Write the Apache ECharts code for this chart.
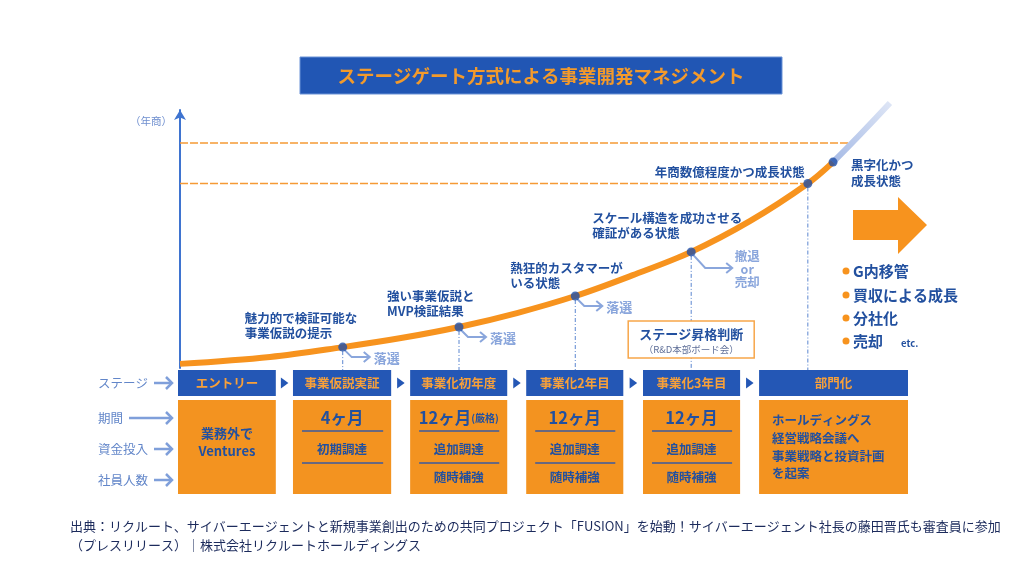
<!DOCTYPE html>
<html><head><meta charset="utf-8">
<script src="https://cdn.jsdelivr.net/npm/echarts@6/dist/echarts.min.js"></script>
<style>html,body{margin:0;padding:0;background:#fff}#c{width:1024px;height:576px}</style>
</head><body><div id="c"></div>
<script>
// ---------------- data ----------------
const chartTitle = 'ステージゲート方式による事業開発マネジメント';
const yAxisName = '（年商）';
// growth curve (x: progress, y: revenue, arbitrary units)
const curveX = [0, 12.5, 22.6, 30.7, 38.75, 46.8, 54.9, 62.9, 71.0, 79.2, 87.2, 90.7];
const curveY = [1.6, 4.3, 8.1, 11.6, 15.9, 21.3, 27.9, 36.0, 45.0, 57.0, 71.5, 79.8];
const extX = [90.7, 94.4, 98.6];
const extY = [79.8, 90.3, 102.7];
// gates on the curve
const gateX = [22.6, 38.75, 54.9, 71.0, 87.2, 90.7];
const gateY = [8.1, 15.9, 27.9, 45.0, 71.5, 79.8];
const gateNotes = ['魅力的で検証可能な\n事業仮説の提示', '強い事業仮説と\nMVP検証結果', '熱狂的カスタマーが\nいる状態',
  'スケール構造を成功させる\n確証がある状態', '年商数億程度かつ成長状態', '黒字化かつ\n成長状態'];
const exitLabels = ['落選', '落選', '落選', '撤退\nor\n売却', '', ''];
const refLevels = [87.2, 71.5];
const refEnds = [93.5, 87.2];
// stage table
const rowLabels = ['ステージ', '期間', '資金投入', '社員人数'];
const stages = ['エントリー', '事業仮説実証', '事業化初年度', '事業化2年目', '事業化3年目', '部門化'];
const stageStart = [0, 15.75, 31.8, 47.7, 63.7, 79.6];
const stageEnd = [13.4, 29.2, 45.1, 61.0, 77.0, 100];
const periods = ['', '4ヶ月', '12ヶ月', '12ヶ月', '12ヶ月', ''];
const periodNotes = ['', '', '(厳格)', '', '', ''];
const funding = ['', '初期調達', '追加調達', '追加調達', '追加調達', ''];
const staff = ['', '', '随時補強', '随時補強', '随時補強', ''];
const bodyNotes = ['業務外で\nVentures', '', '', '', '', 'ホールディングス\n経営戦略会議へ\n事業戦略と投資計画\nを起案'];
const exitOptions = ['G内移管', '買収による成長', '分社化', '売却'];
const exitEtc = 'etc.';
const judgeTitle = 'ステージ昇格判断';
const judgeSub = '（R&D本部ボード会）';
const sourceLines = ['出典：リクルート、サイバーエージェントと新規事業創出のための共同プロジェクト「FUSION」を始動！サイバーエージェント社長の藤田晋氏も審査員に参加',
  '（プレスリリース）｜株式会社リクルートホールディングス'];

// ---------------- styles ----------------
const FONT = '"Noto Sans CJK JP","Noto Sans",sans-serif';
const BLUE = '#2457b5';
const ORANGE = '#f39320';
const ORANGE_TXT = '#f7a03a';
const TXT = '#22509f';
const LIGHT = '#8aa6dc';
const AXIS = '#3f74d0';
const ROWC = '#6286c9';
const DOT = '#1f4fa8';

function T(text, x, y, font, fill, align, valign, extra) {
  return Object.assign({ text, x, y, font, fill, align, verticalAlign: valign, textAlign: align, textVerticalAlign: valign }, extra || {});
}

function renderStage(params, api) {
  const i = api.value(2);
  const x0 = api.coord([api.value(0), 0])[0];
  const x1 = api.coord([api.value(1), 0])[0];
  const yy = v => api.coord([0, v])[1];
  const cx = (x0 + x1) / 2;
  const w = x1 - x0;
  const ch = [];
  ch.push({ type: 'rect', shape: { x: x0, y: yy(0), width: w, height: yy(26) - yy(0) }, style: { fill: BLUE } });
  ch.push({ type: 'text', style: T(stages[i], cx, yy(13), 'bold 12.5px ' + FONT, ORANGE_TXT, 'center', 'middle') });
  ch.push({ type: 'rect', shape: { x: x0, y: yy(30), width: w, height: yy(124) - yy(30) }, style: { fill: ORANGE } });
  if (i > 0) {
    const pe = api.coord([stageEnd[i - 1], 0])[0];
    const tx = (pe + x0) / 2, ty = yy(13);
    ch.push({ type: 'polygon', shape: { points: [[tx - 3.5, ty - 5.5], [tx + 4, ty], [tx - 3.5, ty + 5.5]] }, style: { fill: BLUE } });
  }
  if (periods[i]) {
    const txt = periodNotes[i] ? '{a|' + periods[i] + '}{b|' + periodNotes[i] + '}' : '{a|' + periods[i] + '}';
    ch.push({ type: 'text', style: T(txt, cx, yy(48), 'bold 16px ' + FONT, TXT, 'center', 'middle', {
      rich: { a: { fontSize: 16.5, fontWeight: 'bold', fontFamily: FONT, fill: TXT }, b: { fontSize: 10, fontWeight: 'bold', fontFamily: FONT, fill: TXT } } }) });
    ch.push({ type: 'line', shape: { x1: x0 + 9, y1: yy(61), x2: x1 - 8, y2: yy(61) }, style: { stroke: '#3a5aa0', lineWidth: 1.5 } });
  }
  if (funding[i]) {
    ch.push({ type: 'text', style: T(funding[i], cx, yy(79), 'bold 12.5px ' + FONT, TXT, 'center', 'middle') });
    ch.push({ type: 'line', shape: { x1: x0 + 9, y1: yy(93), x2: x1 - 8, y2: yy(93) }, style: { stroke: '#3a5aa0', lineWidth: 1.5 } });
  }
  if (staff[i]) {
    ch.push({ type: 'text', style: T(staff[i], cx, yy(107), 'bold 12.5px ' + FONT, TXT, 'center', 'middle') });
  }
  if (bodyNotes[i]) {
    if (i === stages.length - 1) {
      ch.push({ type: 'text', style: T(bodyNotes[i], x0 + 13, yy(41.5), 'bold 12.5px ' + FONT, TXT, 'left', 'top', { lineHeight: 17.7 }) });
    } else {
      ch.push({ type: 'text', style: T(bodyNotes[i], cx, yy(72), 'bold 13px ' + FONT, TXT, 'center', 'middle', { lineHeight: 18 }) });
    }
  }
  return { type: 'group', children: ch };
}

const refSeries = refLevels.map((v, i) => ({
  type: 'line', data: [[0, v], [refEnds[i], v]], showSymbol: false, z: 1, silent: true,
  lineStyle: { color: '#f59a36', width: 1.4, type: [8, 2], opacity: 1 }
}));

const chart = echarts.init(document.getElementById('c'), null, { renderer: 'canvas' });
const option = {
  animation: false,
  backgroundColor: '#fff',
  grid: [{ left: 180, top: 110, width: 720, height: 258 }, { left: 178, top: 370, width: 730, height: 124 }],
  xAxis: [{ type: 'value', min: 0, max: 100, show: false, gridIndex: 0 }, { type: 'value', min: 0, max: 100, show: false, gridIndex: 1 }],
  yAxis: [{ type: 'value', min: 0, max: 100, gridIndex: 0,
    axisLine: { show: true, symbol: ['none', 'arrow'], symbolSize: [9, 10], lineStyle: { color: AXIS, width: 2 } },
    axisTick: { show: false }, axisLabel: { show: false }, splitLine: { show: false } },
  { type: 'value', min: 0, max: 124, inverse: true, gridIndex: 1, show: false }],
  series: refSeries.concat([
    { type: 'line', data: curveX.map((x, i) => [x, curveY[i]]), smooth: 0.35, showSymbol: false, z: 3,
      lineStyle: { color: '#f7931e', width: 6 } },
    { type: 'line', data: extX.map((x, i) => [x, extY[i]]), smooth: true, showSymbol: false, clip: false, z: 3,
      lineStyle: { width: 6, color: { type: 'linear', x: 0, y: 1, x2: 1, y2: 0, colorStops: [{ offset: 0, color: '#a4b9e5' }, { offset: 1, color: '#e0e7f6' }] } } },
    { type: 'scatter', data: gateX.map((x, i) => [x, gateY[i]]), symbolSize: 9, itemStyle: { color: DOT }, z: 5 },
    { type: 'custom', xAxisIndex: 1, yAxisIndex: 1, data: stages.map((s, i) => [stageStart[i], stageEnd[i], i]), renderItem: renderStage, z: 2 }
  ])
};
chart.setOption(option);

// ---------------- annotations ----------------
const g = [];
const px = (x, y) => chart.convertToPixel({ gridIndex: 0 }, [x, y]);
const rowPx = v => chart.convertToPixel({ gridIndex: 1 }, [0, v])[1];
const baseY = rowPx(0);
const noteOff = [[-98, -36], [-72, -38], [-65, -35], [-99, -41], [-153, -19], [18, -5]];
gateX.forEach((x, i) => {
  const [X, Y] = px(x, gateY[i]);
  if (i < 5) g.push({ type: 'line', z: 1, shape: { x1: X, y1: Y + 4, x2: X, y2: baseY }, style: { stroke: '#5b86d0', lineWidth: 1, lineDash: [4, 2, 1, 2] } });
  g.push({ type: 'text', z: 4, style: T(gateNotes[i], X + noteOff[i][0], Y + noteOff[i][1], 'bold 12.5px ' + FONT, TXT, 'left', 'top', { lineHeight: i === 5 ? 16 : 15 }) });
  if (exitLabels[i]) {
    const big = i === 3;
    const ex = big ? 14 : 9, ey = big ? 16 : 10, el = big ? 40 : 26;
    g.push({ type: 'polyline', z: 4, shape: { points: [[X + 2, Y + 3], [X + ex, Y + ey], [X + el, Y + ey]] }, style: { stroke: LIGHT, lineWidth: 2, fill: null } });
    g.push({ type: 'polyline', z: 4, shape: { points: [[X + el - 5, Y + ey - 5], [X + el + 1, Y + ey], [X + el - 5, Y + ey + 5]] }, style: { stroke: LIGHT, lineWidth: 2, fill: null } });
    if (big) g.push({ type: 'text', z: 4, style: T(exitLabels[i], X + 56, Y + 17, 'bold 12.5px ' + FONT, LIGHT, 'center', 'middle', { lineHeight: 13 }) });
    else g.push({ type: 'text', z: 4, style: T(exitLabels[i], X + 31, Y + ey + 1, 'bold 13px ' + FONT, LIGHT, 'left', 'middle') });
  }
  if (i === 3) {
    g.push({ type: 'rect', z: 6, shape: { x: X - 63, y: 321, width: 126, height: 37 }, style: { fill: '#fff', stroke: '#f7a64a', lineWidth: 1.5 } });
    g.push({ type: 'text', z: 7, style: T(judgeTitle, X, 334, 'bold 13px ' + FONT, TXT, 'center', 'middle') });
    g.push({ type: 'text', z: 7, style: T(judgeSub, X, 349, '9.5px ' + FONT, '#5f6f98', 'center', 'middle') });
  }
});
// title
g.push({ type: 'rect', z: 1, shape: { x: 300, y: 57, width: 482, height: 37 }, style: { fill: '#2156b4', stroke: '#6a92d6', lineWidth: 1 } });
g.push({ type: 'text', z: 2, style: T(chartTitle, 541, 76, 'bold 18.5px ' + FONT, '#f39a2b', 'center', 'middle') });
// y axis name
g.push({ type: 'text', z: 2, style: T(yAxisName, 151, 121, '10.5px ' + FONT, '#6f8fcf', 'center', 'middle') });
// big arrow
g.push({ type: 'polygon', z: 2, shape: { points: [[853, 210], [898, 210], [898, 197], [927, 225], [898, 254], [898, 240], [853, 240]] }, style: { fill: '#f7931e' } });
// exit options list
const listY = [271, 295, 318, 341];
exitOptions.forEach((s, i) => {
  g.push({ type: 'circle', z: 2, shape: { cx: 846, cy: listY[i], r: 3.5 }, style: { fill: '#f7931e' } });
  g.push({ type: 'text', z: 2, style: T(s, 853, listY[i], 'bold 15px ' + FONT, TXT, 'left', 'middle') });
});
g.push({ type: 'text', z: 2, style: T(exitEtc, 901, listY[3] + 2, 'bold 9.5px ' + FONT, TXT, 'left', 'middle') });
// row labels
const rowY = [13, 48, 79, 110];
rowLabels.forEach((s, i) => {
  const y = rowPx(rowY[i]);
  g.push({ type: 'text', z: 2, style: T(s, 98, y, '12.5px ' + FONT, ROWC, 'left', 'middle') });
  const xs = 98 + s.length * 12.5 + 6, xe = 172;
  g.push({ type: 'line', z: 2, shape: { x1: xs, y1: y, x2: xe, y2: y }, style: { stroke: '#7f9fda', lineWidth: 2.5 } });
  g.push({ type: 'polyline', z: 2, shape: { points: [[xe - 6, y - 6], [xe, y], [xe - 6, y + 6]] }, style: { stroke: '#7f9fda', lineWidth: 2.5, fill: null } });
});
// source
g.push({ type: 'text', z: 2, style: T(sourceLines[0], 70, 526, '13px ' + FONT, '#1c2b5c', 'left', 'middle') });
g.push({ type: 'text', z: 2, style: T(sourceLines[1], 70, 545, '13px ' + FONT, '#1c2b5c', 'left', 'middle') });

chart.setOption({ graphic: g });
</script>
</body></html>
